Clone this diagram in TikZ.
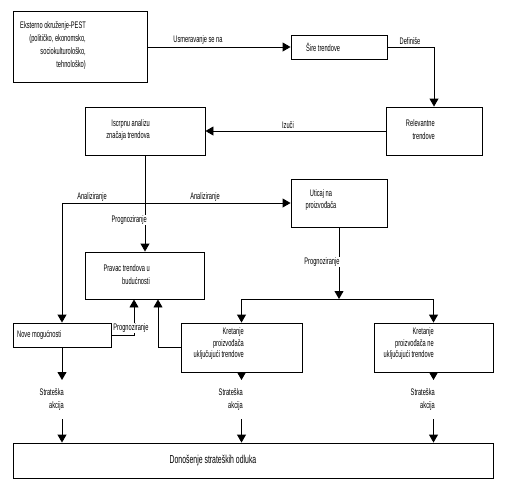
\documentclass[tikz,border=0pt]{standalone}
\usepackage{fontspec}
\setmainfont[FakeStretch=0.6]{Liberation Sans}
\usepackage{tikz}
\usetikzlibrary{arrows.meta, calc}

\tikzset{
  blok/.style = {draw, line width=0.9pt, inner sep=0pt},
  tekst/.style = {inner sep=0pt, font=\fontsize{9.5}{11.5}\selectfont},
  oznaka/.style = {tekst, fill=white, inner sep=1pt},
  linija/.style = {line width=0.9pt},
  strelica/.style = {linija, -{Triangle[width=9pt,length=8pt]}}
}

\begin{document}
\begin{tikzpicture}[x=1pt, y=-1pt]
\useasboundingbox (0,0) rectangle (505,496);
\node[blok, minimum width=134, minimum height=71] (ekst) at (80,47) {};
\node[blok, minimum width=96, minimum height=24] (sire) at (339,47) {};
\node[blok, minimum width=96, minimum height=48] (relev) at (434,131) {};
\node[blok, minimum width=120, minimum height=48] (iscrp) at (145,131) {};
\node[blok, minimum width=96, minimum height=48] (utic) at (339,203) {};
\node[blok, minimum width=119, minimum height=47] (pravac) at (145,275.5) {};
\node[blok, minimum width=98, minimum height=24] (nove) at (62,335) {};
\node[blok, minimum width=121, minimum height=49] (kret1) at (241.5,347.5) {};
\node[blok, minimum width=119, minimum height=49] (kret2) at (433.5,347.5) {};
\node[blok, minimum width=480, minimum height=35] (odluke) at (253,460.5) {};

\node[tekst, anchor=east, align=right, font=\fontsize{9.5}{13}\selectfont] (t-ekst) at (86,46) {Eksterno okruženje-PEST\\(političko, ekonomsko,\\sociokulturološko,\\tehnološko)};
\node[tekst, anchor=west] (t-sire) at (306,47) {Šire trendove};
\node[tekst, anchor=east, align=right, font=\fontsize{9.5}{13}\selectfont] (t-relev) at (435,130) {Relevantne\\trendove};
\node[tekst, anchor=east, align=right] (t-iscrp) at (150,130) {Iscrpnu analizu\\značaja trendova};
\node[tekst, align=center] (t-utic) at (321,200) {Uticaj na\\proizvođača};
\node[tekst, anchor=east, align=right, font=\fontsize{9.5}{13}\selectfont] (t-pravac) at (150,275) {Pravac trendova u\\budućnosti};
\node[tekst, anchor=west] (t-nove) at (17,335) {Nove mogućnosti};
\node[tekst, anchor=east, align=right] (t-kret1) at (244,344) {Kretanje\\proizvođača\\uključujući trendove};
\node[tekst, anchor=east, align=right] (t-kret2) at (434,344) {Kretanje\\proizvođača ne\\uključujući trendove};
\node[tekst, font=\fontsize{11.5}{13}\selectfont] (t-odluke) at (213,460) {Donošenje strateških odluka};

\draw[strelica] (ekst.east) -- (sire.west);
\draw[strelica] (sire.east) -| (relev.north);
\draw[strelica] (relev.west) -- (iscrp.east);
\draw[strelica] (iscrp.south) -- (pravac.north);
\coordinate (anal) at (145,203);
\draw[strelica] (anal) -- (utic.west);
\draw[strelica] (anal) -| (nove.north);
\coordinate (prog) at (339,299);
\draw[strelica] (utic.south) -- (prog);
\draw[linija] (kret1.north |- prog) -- (kret2.north |- prog);
\draw[strelica] (kret1.north |- prog) -- (kret1.north);
\draw[strelica] (kret2.north |- prog) -- (kret2.north);
\draw[strelica] (nove.east) -| ($(pravac.south)+(-11,0)$);
\draw[strelica] (kret1.west) -| ($(pravac.south)+(13,0)$);

\coordinate (s1a) at (nove.south |- 0,380);
\coordinate (s1b) at (nove.south |- 0,419);
\coordinate (s2a) at (kret1.south |- 0,380);
\coordinate (s2b) at (kret1.south |- 0,419);
\coordinate (s3a) at (kret2.south |- 0,380);
\coordinate (s3b) at (kret2.south |- 0,419);
\draw[strelica] (nove.south) -- (s1a);
\draw[strelica] (kret1.south) -- (s2a);
\draw[strelica] (kret2.south) -- (s3a);
\draw[strelica] (s1b) -- (odluke.north -| s1b);
\draw[strelica] (s2b) -- (odluke.north -| s2b);
\draw[strelica] (s3b) -- (odluke.north -| s3b);

\node[oznaka] (l-usm) at (198,40) {Usmeravanje se na};
\node[oznaka] (l-def) at (410,41) {Definiše};
\node[oznaka] (l-izu) at (288,125) {Izuči};
\node[oznaka, anchor=east] (l-prog1) at (148,220) {Prognoziranje};
\node[oznaka] (l-anal1) at (92,197) {Analiziranje};
\node[oznaka] (l-anal2) at (205,197) {Analiziranje};
\node[oznaka] (l-prog2) at (322,262) {Prognoziranje};
\node[oznaka] (l-prog3) at (131,328) {Prognoziranje};
\node[tekst, anchor=east, align=right, font=\fontsize{9.5}{13}\selectfont] (l-str1) at (64,399.5) {Strateška\\akcija};
\node[tekst, anchor=east, align=right, font=\fontsize{9.5}{13}\selectfont] (l-str2) at (243,399.5) {Strateška\\akcija};
\node[tekst, anchor=east, align=right, font=\fontsize{9.5}{13}\selectfont] (l-str3) at (435,399.5) {Strateška\\akcija};
\end{tikzpicture}
\end{document}
